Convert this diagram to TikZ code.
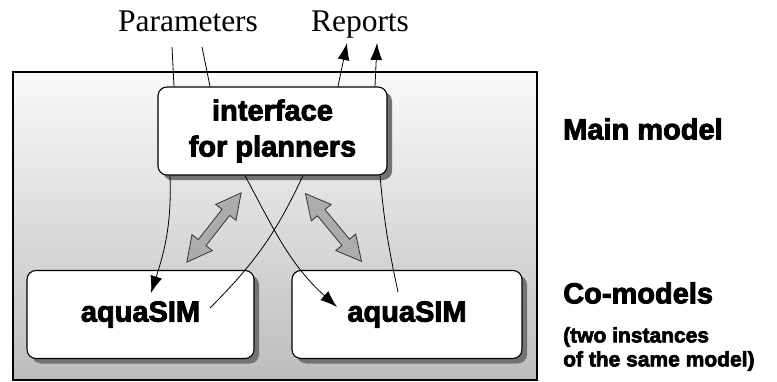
\documentclass[tikz,border=0pt]{standalone}
\usepackage{fontspec}
\setmainfont{Liberation Serif}
\setsansfont{Liberation Sans}
\newfontfamily\heavyfont{Liberation Sans Bold}[FakeBold=3]
\usepackage{tikz}
\usetikzlibrary{arrows.meta,shapes.arrows,shadows,positioning}
\tikzset{>={Latex[length=17pt,width=12pt]}}
\tikzset{
  % rounded model box with a dark drop shadow
  model/.style={draw, line width=1.1pt, fill=white, rounded corners=9pt,
    minimum width=#1, minimum height=88pt, align=center,
    font=\heavyfont\fontsize{29}{36}\selectfont,
    drop shadow={shadow xshift=5pt, shadow yshift=-5pt, fill=black!55, opacity=1}},
  % grey two-way exchange arrow
  exchange/.style={double arrow, draw=black!80, line width=0.8pt, fill=gray!65, minimum height=88pt,
    inner sep=4.5pt, double arrow head extend=8pt, double arrow tip angle=55},
  % labels on the right
  side/.style={anchor=west, align=left, inner sep=0pt,
    font=\heavyfont\fontsize{29}{34}\selectfont},
  % in/out labels on top
  flow/.style={anchor=base, inner sep=0pt, font=\fontsize{31.5}{36}\selectfont},
  link/.style={line width=0.8pt},
}
\begin{document}
\begin{tikzpicture}[x=1pt,y=1pt]
  \useasboundingbox (0,0) rectangle (777,381);
  % background frame
  \shade[top color=gray!4, middle color=gray!24, bottom color=gray!52] (13,1) rectangle (537,309);
  \draw[line width=1.2pt] (13,1) rectangle (537,309);

  \node[model=229pt] (iface) at (272.5,250) {interface\\for planners};
  \node[model=227pt] (simL) at (140.5,66.5) {aquaSIM};
  \node[model=230pt] (simR) at (407,66.5) {aquaSIM};

  \node[flow] (param) at (188,349) {Parameters};
  \node[flow] (report) at (360,349) {Reports};

  \draw[link] ([shift={(-16,-15)}]param.base) -- ([xshift=-98.5pt]iface.north);
  \draw[link] ([shift={(14,-15)}]param.base) -- ([xshift=-62.5pt]iface.north);
  \draw[link,->] ([xshift=65.5pt]iface.north) -- ([shift={(-13,-11)}]report.base);
  \draw[link,->] ([xshift=102.5pt]iface.north) -- ([shift={(17,-11)}]report.base);

  % interface <-> co-models
  \draw[link,->] ([xshift=-102.5pt]iface.south) to[out=-88,in=72] ([shift={(10.5,21.5)}]simL.center);
  \draw[link,->] ([xshift=-27.5pt]iface.south) to[out=-62,in=138] ([shift={(-70,7.5)}]simR.center);
  \draw[link] ([shift={(69.5,6.5)}]simL.center) to[out=45,in=-115] ([xshift=30.5pt]iface.south);
  \draw[link] ([shift={(-9,22.5)}]simR.center) to[out=102,in=-85] ([xshift=107.5pt]iface.south);

  \node[exchange, rotate=51.9] (syncL) at (214,153.5) {};
  \node[exchange, rotate=-50.4] (syncR) at (333.5,153.5) {};

  \node[side] (mainlbl) at (563,252) {Main model};
  \node[side] (colbl) at (563,88) {Co-models};
  \node[side, font=\heavyfont\fontsize{21}{24}\selectfont] (colnote) at (563,32) {(two instances\\of the same model)};
\end{tikzpicture}
\end{document}
